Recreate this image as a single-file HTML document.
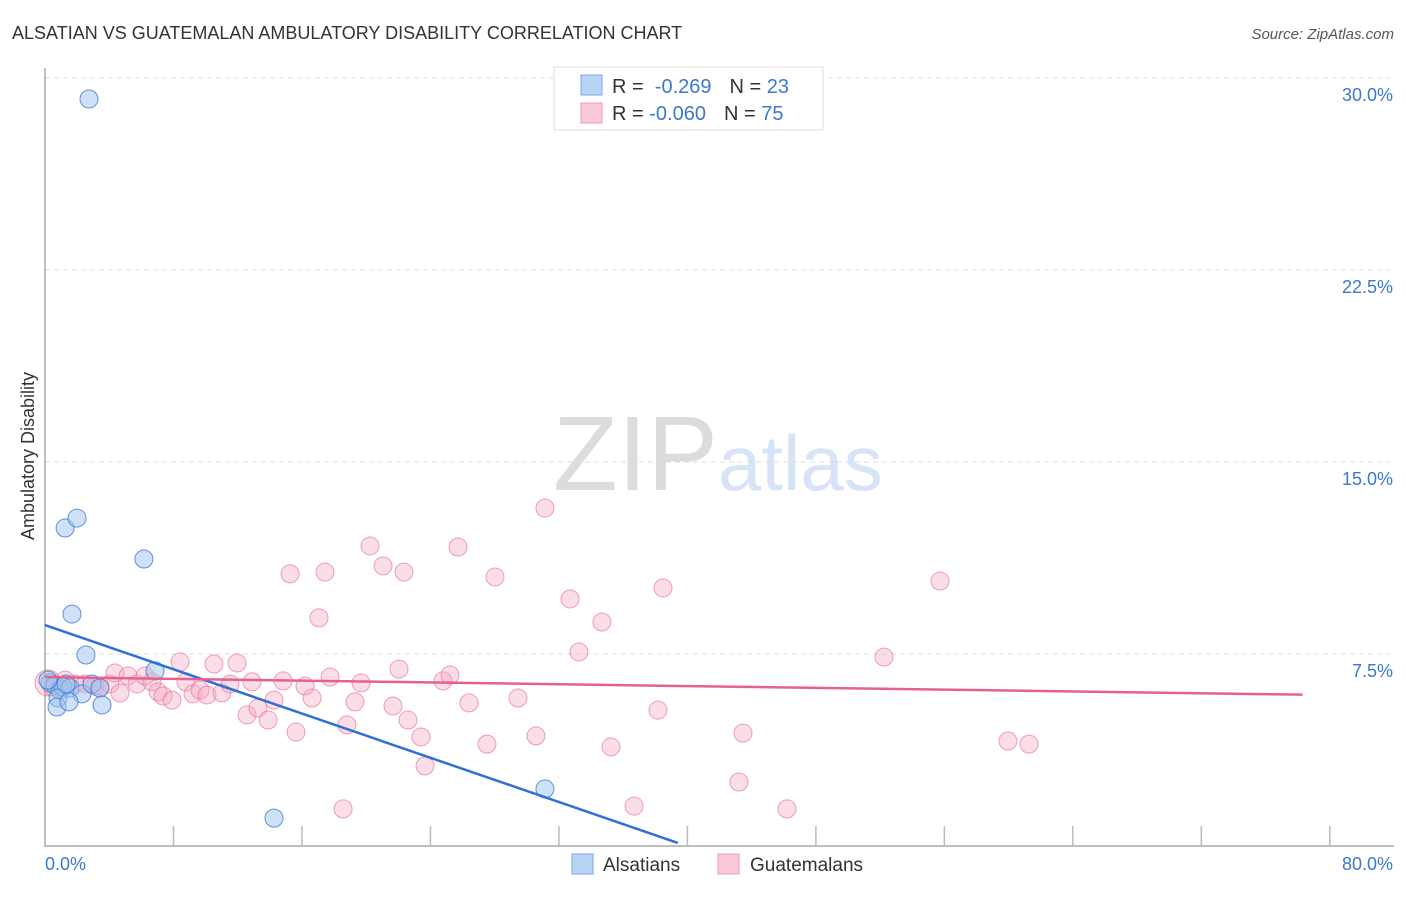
<!DOCTYPE html>
<html><head><meta charset="utf-8"><style>
body{margin:0;background:#fff;font-family:"Liberation Sans",sans-serif;}
svg text{font-family:"Liberation Sans",sans-serif;}
</style></head><body>
<svg id="chart" width="1406" height="892" viewBox="0 0 1406 892" xmlns="http://www.w3.org/2000/svg">
<text x="12" y="39" font-size="18" fill="#333">ALSATIAN VS GUATEMALAN AMBULATORY DISABILITY CORRELATION CHART</text>
<text x="1394" y="39" font-size="15" fill="#555" text-anchor="end" font-style="italic">Source: ZipAtlas.com</text>
<g>
<text x="553" y="490" font-size="106" fill="#dcdcdc" font-family="Liberation Serif, serif">ZIP</text>
<text x="718" y="490" font-size="78" fill="#d6e4f5">atlas</text>
</g>
<g id="grid"></g>
<g id="axes"></g>
<text transform="translate(34,456) rotate(-90)" font-size="18" fill="#333" text-anchor="middle">Ambulatory Disability</text>
<g id="pinkpts"></g>
<g id="bluepts"></g>
<g id="trends"></g>
<g>
<rect x="554" y="67" width="269" height="63" fill="#fff" stroke="#ddd"/>
<rect x="581" y="75" width="21" height="20" fill="#b8d4f5" stroke="#7aaae6"/>
<rect x="581" y="103" width="21" height="20" fill="#fac8d8" stroke="#ef9ab5"/>
<text x="612" y="93" font-size="20" fill="#333">R = <tspan fill="#3b78d0">&#160;-0.269</tspan><tspan dx="18" fill="#333">N = </tspan><tspan fill="#3b78d0">23</tspan></text>
<text x="612" y="120" font-size="20" fill="#333">R = <tspan fill="#3b78d0">-0.060</tspan><tspan dx="18" fill="#333">N = </tspan><tspan fill="#3b78d0">75</tspan></text>
</g>
<g>
<rect x="572" y="854" width="21" height="20" fill="#b8d4f5" stroke="#7aaae6"/>
<text x="603" y="871" font-size="19" fill="#333">Alsatians</text>
<rect x="718" y="854" width="21" height="20" fill="#fac8d8" stroke="#ef9ab5"/>
<text x="750" y="871" font-size="19" fill="#333">Guatemalans</text>
</g>
</svg>
<script>
const yTicks=[7.5,15,22.5,30];
const yTickLabels=["7.5%","15.0%","22.5%","30.0%"];
const xEndLabels=["0.0%","80.0%"];
const blueX=[2.74,1.25,1.99,6.16,1.68,2.55,6.85,0.31,0.62,0.93,1.12,1.56,2.30,2.93,3.42,0.81,0.75,1.49,3.55,14.26,31.13,0.19,1.31];
const blueY=[29.18,12.42,12.81,11.21,9.06,7.46,6.84,6.37,6.29,6.09,6.21,6.17,5.94,6.33,6.17,5.78,5.43,5.63,5.51,1.09,2.23,6.48,6.33];
const pinkX=[0.19,0.93,1.87,2.49,3.11,3.42,4.05,4.36,4.67,5.17,5.73,6.23,6.66,7.04,7.35,7.91,8.41,8.78,9.22,9.65,10.09,10.52,11.02,11.52,11.96,12.58,12.89,13.26,13.89,14.26,14.82,15.26,15.63,16.19,16.63,17.06,17.43,17.75,18.80,18.56,19.30,19.68,20.24,21.05,21.67,22.04,22.35,22.60,23.41,23.66,24.78,25.22,25.72,26.40,27.52,28.02,29.45,30.57,31.13,32.69,33.25,34.68,35.24,36.68,38.17,38.48,43.21,43.46,46.20,52.24,55.73,59.96,61.27,1.25,0.5];
const pinkY=[6.37,6.17,6.33,6.33,6.25,6.25,6.33,6.76,5.98,6.64,6.33,6.64,6.41,6.02,5.86,5.70,7.19,6.41,5.94,6.09,5.90,7.11,5.98,6.33,7.15,5.12,6.41,5.39,4.92,5.70,6.45,10.63,4.45,6.25,5.78,8.91,10.70,6.60,4.73,1.45,5.63,6.37,11.72,10.94,5.47,6.91,10.70,4.92,4.26,3.13,6.45,6.68,11.68,5.59,3.98,10.51,5.78,4.30,13.20,9.65,7.58,8.75,3.87,1.56,5.31,10.08,2.50,4.41,1.45,7.38,10.35,4.10,3.98,6.48,6.2];
const blueTrend=[8.63,-0.216,0,39.4];   // intercept, slope, xStart, xEnd
const pinkTrend=[6.6,-0.0088,0,78.3];
const X=v=>45+v*16.06, Y=v=>846-v*25.6;
const NS="http://www.w3.org/2000/svg";
function mk(tag,attrs,parent){const e=document.createElementNS(NS,tag);for(const k in attrs)e.setAttribute(k,attrs[k]);parent.appendChild(e);return e;}
const grid=document.getElementById('grid'),axes=document.getElementById('axes');
yTicks.forEach((t,i)=>{
 const l=mk('line',{x1:45,x2:1394,y1:Y(t),y2:Y(t),stroke:'#ddd','stroke-dasharray':'5,4'},grid);
 
 
 const tx=mk('text',{x:1393,y:Y(t)+23,'font-size':18,fill:'#3b78d0','text-anchor':'end'},axes);
 tx.textContent=yTickLabels[i];
 
 
});
const ax=mk('path',{d:'M45,68 V846 H1394',fill:'none',stroke:'#aaa','stroke-width':1.5},axes);


for(let i=1;i<=10;i++){
 const t=mk('line',{x1:X(i*8),x2:X(i*8),y1:826,y2:846,stroke:'#bbb','stroke-width':1.5},axes);
 
 
}
const l0=mk('text',{x:45,y:870,'font-size':18,fill:'#3b78d0'},axes);l0.textContent=xEndLabels[0];


const l1=mk('text',{x:1393,y:870,'font-size':18,fill:'#3b78d0','text-anchor':'end'},axes);l1.textContent=xEndLabels[1];


const pp=document.getElementById('pinkpts');
pinkX.forEach((x,i)=>{
 const c=mk('circle',{cx:X(x),cy:Y(pinkY[i]),r:i===0?13:9,fill:'rgba(246,170,195,0.4)',stroke:'rgba(232,120,155,0.7)','stroke-width':1},pp);
 
 
});
const bp=document.getElementById('bluepts');
blueX.forEach((x,i)=>{
 const c=mk('circle',{cx:X(x),cy:Y(blueY[i]),r:9,fill:'rgba(160,195,240,0.5)',stroke:'rgba(60,120,210,0.8)','stroke-width':1},bp);
 
 
});
const tr=document.getElementById('trends');
[[blueTrend,'#2f6fd6','alsatian-trend-line'],[pinkTrend,'#e8608e','guatemalan-trend-line']].forEach(([t,col,name])=>{
 const l=mk('line',{x1:X(t[2]),y1:Y(t[0]+t[1]*t[2]),x2:X(t[3]),y2:Y(t[0]+t[1]*t[3]),stroke:col,'stroke-width':2.5},tr);
 
 
});
</script>
</body></html>
